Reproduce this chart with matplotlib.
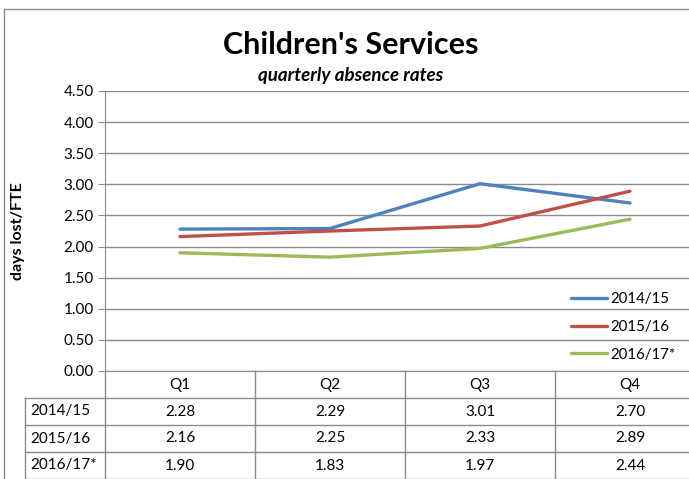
import matplotlib
matplotlib.use("Agg")
import matplotlib.pyplot as plt
from matplotlib.patches import Rectangle
from matplotlib.lines import Line2D

categories = ["Q1", "Q2", "Q3", "Q4"]
series_names = ["2014/15", "2015/16", "2016/17*"]
v2014 = [2.28, 2.29, 3.01, 2.70]
v2015 = [2.16, 2.25, 2.33, 2.89]
v2016 = [1.90, 1.83, 1.97, 2.44]
yticks = [0.0, 0.5, 1.0, 1.5, 2.0, 2.5, 3.0, 3.5, 4.0, 4.5]
colors = ["#4F81BD", "#C0504D", "#9BBB59"]
series = [v2014, v2015, v2016]

plt.rcParams['font.family'] = ['Lato', 'DejaVu Sans']
W, H = 689, 479
fig = plt.figure(figsize=(W/100, H/100), dpi=100)

def fx(px): return px / W
def fy(py): return 1 - py / H

FS = 11

# outer border
fig.patches.append(Rectangle((fx(4), fy(700)), fx(900), fy(9) - fy(700), transform=fig.transFigure,
                             fill=False, edgecolor="#8C8C8C", linewidth=1.0))

left, right, top, bottom = 105, 705, 91, 371
ax = fig.add_axes([fx(left), fy(bottom), fx(right - left), fy(top) - fy(bottom)])
ax.set_xlim(-0.5, 3.5)
ax.set_ylim(0, 4.5)
ax.set_yticks(yticks)
ax.set_yticklabels([f"{t:.2f}" for t in yticks], fontsize=FS)
ax.yaxis.grid(True, color="#8C8C8C", linewidth=1)
ax.set_axisbelow(True)
for s in ["top", "right"]:
    ax.spines[s].set_visible(False)
ax.spines["left"].set_color("#8C8C8C")
ax.spines["bottom"].set_color("#8C8C8C")
ax.tick_params(axis="y", length=5, color="#8C8C8C", pad=3)
ax.set_xticks([])

x = list(range(len(categories)))
for name, vals, c in zip(series_names, series, colors):
    ax.plot(x, vals, color=c, linewidth=2.4, label=name, solid_capstyle="round")

leg = ax.legend(loc="center left", bbox_to_anchor=(fx(563), fy(327)), bbox_transform=fig.transFigure,
                frameon=False, fontsize=10.8, handlelength=2.4, handletextpad=0.25,
                labelspacing=0.9, borderpad=0)

# title
fig.text(fx(351), fy(45), "Children's Services", ha="center", va="center", fontsize=22, fontweight="bold")
fig.text(fx(351), fy(75), "quarterly absence rates", ha="center", va="center", fontsize=13.5,
         fontweight="bold", fontstyle="italic")
fig.text(fx(18), fy(231), "days lost/FTE", ha="center", va="center", fontsize=11.5, fontweight="bold", rotation=90)

# data table
rowh = 27
tcol = "#8C8C8C"
for i, cat in enumerate(categories):
    fig.text(fx(left + 150 * i + 75), fy(bottom + rowh / 2), cat, ha="center", va="center", fontsize=FS)
for r, (name, vals) in enumerate(zip(series_names, series)):
    ycen = bottom + rowh * (r + 1) + rowh / 2
    fig.text(fx(30), fy(ycen), name, ha="left", va="center", fontsize=FS)
    for i, v in enumerate(vals):
        fig.text(fx(left + 150 * i + 75), fy(ycen), f"{v:.2f}", ha="center", va="center", fontsize=FS)
for r in range(1, 5):
    yy = bottom + rowh * r
    fig.add_artist(Line2D([fx(25), fx(720)], [fy(yy), fy(yy)], color=tcol, linewidth=1))
fig.add_artist(Line2D([fx(25), fx(25)], [fy(bottom + rowh), fy(H + 5)], color=tcol, linewidth=1))
for i in range(0, 5):
    xx = left + 150 * i
    fig.add_artist(Line2D([fx(xx), fx(xx)], [fy(bottom), fy(H + 5)], color=tcol, linewidth=1))

fig.savefig("out.png", dpi=100)
